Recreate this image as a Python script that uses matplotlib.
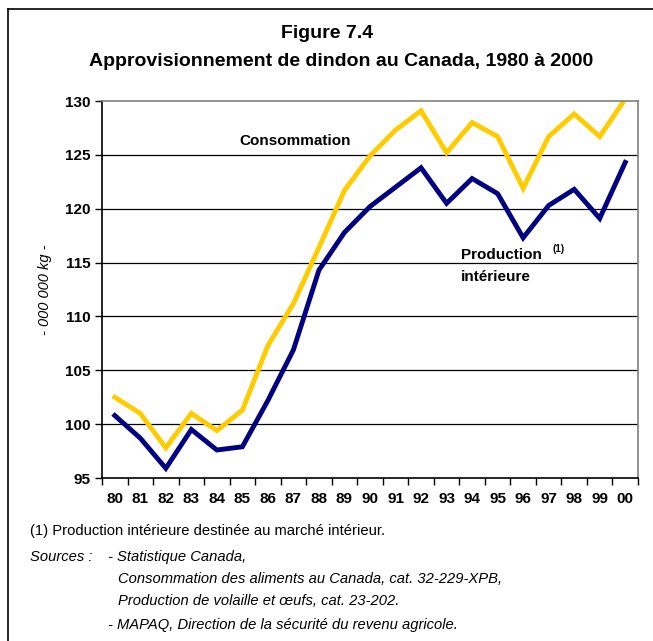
import matplotlib.pyplot as plt
from matplotlib.lines import Line2D

plt.rcParams['font.family'] = ['Liberation Sans', 'DejaVu Sans']

# Years and series (millions of kg)
years = ["80", "81", "82", "83", "84", "85", "86", "87", "88", "89", "90",
         "91", "92", "93", "94", "95", "96", "97", "98", "99", "00"]
consommation = [102.5, 101.0, 97.8, 101.0, 99.4, 101.3, 107.3, 111.2, 116.4, 121.7, 124.9,
                127.3, 129.1, 125.2, 128.0, 126.7, 121.9, 126.7, 128.8, 126.7, 130.2]
production = [100.8, 98.7, 95.9, 99.5, 97.6, 97.9, 102.2, 106.9, 114.3, 117.8, 120.2,
              122.0, 123.8, 120.5, 122.8, 121.4, 117.3, 120.3, 121.8, 119.1, 124.3]
yticks = [95, 100, 105, 110, 115, 120, 125, 130]

fig = plt.figure(figsize=(6.53, 6.41), dpi=100)
W, H = 653, 641
ax = fig.add_axes([102 / W, 1 - 478 / H, (638 - 102) / W, (478 - 101) / H])

x = list(range(len(years)))
ax.plot(x, consommation, color='#FFCC00', lw=3.5, solid_joinstyle='miter')
ax.plot(x, production, color='#000080', lw=3.5, solid_joinstyle='miter')

ax.set_xlim(-0.5, len(years) - 0.5)
ax.set_ylim(95, 130)
ax.set_yticks(yticks)
ax.set_yticklabels([str(v) for v in yticks], fontweight='bold', fontsize=11)
ax.set_xticks(x)
ax.set_xticklabels(years, fontweight='bold', fontsize=11)
ax.tick_params(axis='x', length=0, pad=10)
ax.set_xticks([i - 0.5 for i in range(len(years) + 1)], minor=True)
ax.tick_params(axis='x', which='minor', length=5, width=1, direction='out')
ax.tick_params(axis='y', length=5, width=1, direction='out', pad=3)

for v in yticks[1:-1]:
    ax.axhline(v, color='black', lw=0.9, zorder=0)
for s in ['top', 'right']:
    ax.spines[s].set_color('#808080')
    ax.spines[s].set_linewidth(1.2)
for s in ['left', 'bottom']:
    ax.spines[s].set_color('black')
    ax.spines[s].set_linewidth(1.2)

ax.set_ylabel('- 000 000 kg -', fontstyle='italic', fontsize=10.5, labelpad=10)

ax.text(7.08, 126.3, 'Consommation', fontweight='bold', fontsize=11, ha='center', va='center')
ax.text(13.55, 115.7, 'Production', fontweight='bold', fontsize=11, ha='left', va='center')
ax.text(17.15, 116.3, '(1)', fontweight='bold', fontsize=7, ha='left', va='center')
ax.text(13.55, 113.7, 'intérieure', fontweight='bold', fontsize=11, ha='left', va='center')

fig.text(327 / W, 1 - 33 / H, 'Figure 7.4', fontweight='bold', fontsize=14, ha='center', va='center')
fig.text(341 / W, 1 - 62 / H, 'Approvisionnement de dindon au Canada, 1980 à 2000',
         fontweight='bold', fontsize=14, ha='center', va='center')

fs = 10.6
fig.text(30 / W, 1 - 531 / H, '(1) Production intérieure destinée au marché intérieur.',
         fontsize=fs, ha='left', va='center')
fig.text(30 / W, 1 - 557 / H, 'Sources :', fontsize=fs, fontstyle='italic', ha='left', va='center')
fig.text(108 / W, 1 - 557 / H, '- Statistique Canada,', fontsize=fs, fontstyle='italic', ha='left', va='center')
fig.text(118 / W, 1 - 579 / H, 'Consommation des aliments au Canada, cat. 32-229-XPB,',
         fontsize=fs, fontstyle='italic', ha='left', va='center')
fig.text(118 / W, 1 - 601 / H, 'Production de volaille et œufs, cat. 23-202.',
         fontsize=fs, fontstyle='italic', ha='left', va='center')
fig.text(108 / W, 1 - 625 / H, '- MAPAQ, Direction de la sécurité du revenu agricole.',
         fontsize=fs, fontstyle='italic', ha='left', va='center')

# outer frame (left and top edges visible)
fig.add_artist(Line2D([8 / W, 8 / W], [0, 1 - 9 / H], transform=fig.transFigure, color='black', lw=1.2))
fig.add_artist(Line2D([8 / W, 1], [1 - 9 / H, 1 - 9 / H], transform=fig.transFigure, color='black', lw=1.2))

fig.savefig('out.png', dpi=100)
